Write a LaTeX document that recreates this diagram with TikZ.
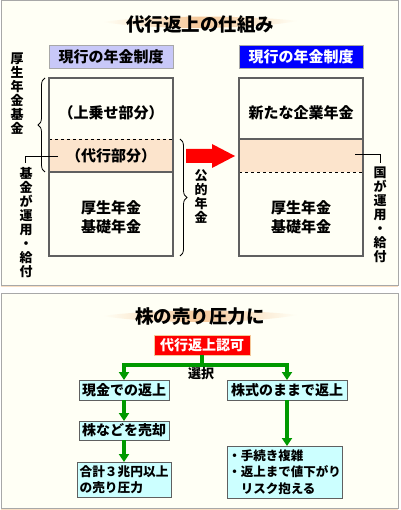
\documentclass[tikz,border=0pt]{standalone}
\usepackage{fontspec}
\setmainfont{Noto Sans CJK JP}
\usetikzlibrary{arrows.meta,decorations.pathreplacing}
\definecolor{bg}{HTML}{FFFFF5}
\definecolor{frame}{HTML}{A8A8A8}
\definecolor{peach}{HTML}{FCE4CC}
\definecolor{brush}{HTML}{F5C89A}
\definecolor{lav}{HTML}{C8C8F8}
\definecolor{hblue}{HTML}{0000FF}
\definecolor{boxline}{HTML}{606060}
\definecolor{gr}{HTML}{009900}
\definecolor{cyanbox}{HTML}{CCFFFF}
\tikzset{
 every node/.style={inner sep=0pt, outer sep=0pt},
 txt/.style={font=\fontsize{15}{19}\selectfont\bfseries, align=center},
 vtxt/.style={font=\fontsize{13}{14}\selectfont\bfseries, align=center, anchor=north},
 ttl/.style={font=\fontsize{18.5}{20}\selectfont\bfseries},
 hdr/.style={draw=frame, line width=0.8pt, minimum width=124pt, minimum height=23pt, font=\fontsize{15}{17}\selectfont\bfseries},
 colbox/.style={draw=boxline, line width=1.3pt, minimum width=124pt, minimum height=178pt},
 conn/.style={line width=0.8pt, black},
 brc/.style={decorate, decoration={brace, amplitude=7pt}, line width=0.8pt},
 fbox/.style={draw=boxline, line width=1pt, fill=cyanbox, font=\fontsize{14}{16}\selectfont\bfseries, minimum height=20pt},
 gline/.style={draw=gr, line width=3.5pt},
 garrow/.style={gline, -{Triangle[width=10pt,length=8pt]}},
 panel/.style={draw=frame, line width=1pt, fill=bg},
}
\begin{document}
\begin{tikzpicture}[x=1pt,y=-1pt]
\useasboundingbox (0,0) rectangle (400,510);
\fill[white] (0,0) rectangle (400,510);
% panel 1
\draw[panel] (1,1) rectangle (398,285);
\draw[brush!60, line width=1pt] (1,286.5) -- (398,286.5);
\shade[left color=bg, right color=bg, middle color=brush] (103,22) .. controls (150,15) and (250,15) .. (297,21) .. controls (250,30) and (150,30) .. (103,22) -- cycle;
\node[ttl] (t1) at (200,24) {代行返上の仕組み};
\node[hdr, fill=lav] (h1) at (111,56.5) {現行の年金制度};
\node[hdr, fill=hblue, text=white] (h2) at (301,56.5) {現行の年金制度};
% left column
\fill[peach] (49,139) rectangle (173,172);
\draw[conn, dashed] (49,139) -- (173,139);
\draw[boxline, line width=1.3pt] (49,172) -- (173,172);
\node[colbox] (L) at (111,167) {};
\node[txt] (l1) at (111,113) {（上乗せ部分）};
\node[txt] (l2) at (111,156) {（代行部分）};
\node[txt] (l3) at (111,217) {厚生年金\\基礎年金};
% right column
\fill[peach] (239,139) rectangle (363,172);
\draw[boxline, line width=1.3pt] (239,139) -- (363,139);
\draw[conn, dashed] (239,172) -- (363,172);
\node[colbox] (R) at (301,167) {};
\node[txt] (r1) at (301,113) {新たな企業年金};
\node[txt] (r3) at (301,217) {厚生年金\\基礎年金};
% left labels
\node[vtxt] (v1) at (17,53) {厚\\生\\年\\金\\基\\金};
\draw[brc] (45,172) -- (45,78);
\coordinate (c1) at (58,156);
\coordinate (c1b) at (25,163);
\draw[conn] (c1) -| (c1b);
\node[vtxt] (v2) at (26,167) {基\\金\\が\\運\\用\\・\\給\\付};
\draw[brc] (180,139) -- (180,256);
\node[vtxt] (v3) at (201,170) {公\\的\\年\\金};
% red arrow
\fill[red] (186,149) -- (212,149) -- (212,144) -- (235,156) -- (212,168) -- (212,163) -- (186,163) -- cycle;
% right label
\coordinate (c2) at (355,154);
\coordinate (c2b) at (380,163);
\draw[conn] (c2) -| (c2b);
\node[vtxt] (v4) at (380,167) {国\\が\\運\\用\\・\\給\\付};
% panel 2
\draw[panel] (1,293) rectangle (398,508);
\draw[brush!60, line width=1pt] (1,509.5) -- (398,509.5);
\shade[left color=bg, right color=bg, middle color=brush] (103,316) .. controls (150,309) and (250,309) .. (297,315) .. controls (250,324) and (150,324) .. (103,316) -- cycle;
\node[ttl] (t2) at (200,317) {株の売り圧力に};
\node[draw=brush, line width=1pt, fill=red, text=white, minimum width=96pt, minimum height=20pt, font=\fontsize{14}{16}\selectfont\bfseries] (auth) at (202,345) {代行返上認可};
\node[fbox, minimum width=90pt] (cash) at (124,390) {現金での返上};
\node[fbox, minimum width=90pt, minimum height=19pt] (sell) at (124,430.5) {株などを売却};
\node[fbox, minimum width=94pt, minimum height=35pt, align=left, font=\fontsize{12.7}{16}\selectfont\bfseries] (pr) at (124,479.5) {合計３兆円以上\\の売り圧力};
\node[fbox, minimum width=120pt] (stk) at (287,390) {株式のままで返上};
\node[fbox, minimum width=115pt, minimum height=52pt, align=left, font=\fontsize{12.5}{16.5}\selectfont\bfseries] (risk) at (284.5,472) {・手続き複雑\\・返上まで値下がり\\　リスク抱える};
\coordinate (j) at (202,365);
\draw[gline] (auth.south) -- (j);
\draw[gline, line cap=rect] (cash.north |- j) -- (stk.north |- j);
\draw[garrow] (cash.north |- j) -- (cash.north);
\draw[garrow] (stk.north |- j) -- (stk.north);
\node[font=\fontsize{13}{15}\selectfont\bfseries] (sel) at (201,374) {選択};
\draw[garrow] (cash.south) -- (sell.north);
\draw[garrow] (sell.south) -- (pr.north);
\draw[garrow] (stk.south) -- (stk.south |- risk.north);
\end{tikzpicture}
\end{document}
